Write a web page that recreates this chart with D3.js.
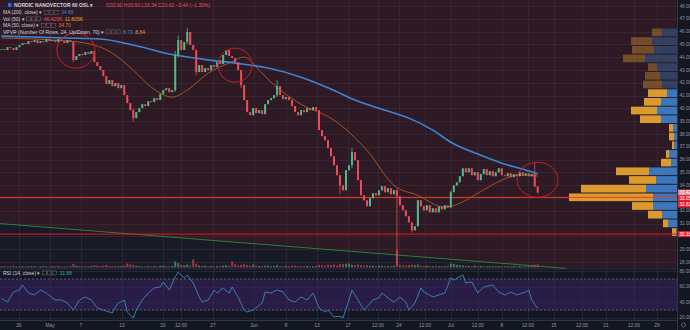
<!DOCTYPE html>
<html><head><meta charset="utf-8">
<script src="https://cdn.jsdelivr.net/npm/d3@7"></script>
<style>html,body{margin:0;padding:0;background:#131722;overflow:hidden}svg{display:block}</style>
</head><body><svg id="c" width="690" height="330"></svg>
<script>
// ---------- DATA ----------
const closes = [
44.64,44.56,44.79,44.71,44.56,44.79,44.95,45.11,45.03,45.26,
45.18,45.34,45.11,45.26,45.18,45.42,45.26,45.34,45.18,45.42,
45.26,45.11,45.34,45.18,43.78,44.09,44.25,44.17,44.40,44.25,
44.48,43.62,43.31,42.99,42.52,41.90,42.21,41.74,41.97,41.58,
41.82,41.04,40.41,39.86,39.24,39.71,40.02,40.33,40.18,40.57,
40.49,40.80,40.65,41.11,41.43,41.58,41.27,41.43,44.17,45.34,
44.56,45.18,45.97,44.95,44.56,42.84,43.38,42.84,43.15,42.99,
43.38,43.23,43.62,43.46,44.17,44.56,44.09,43.93,43.62,42.99,
41.82,40.65,39.71,39.47,40.02,39.63,39.86,39.55,40.33,40.65,
40.80,41.04,41.74,41.04,40.72,40.88,40.65,40.18,39.71,39.47,
39.86,39.71,40.02,39.86,40.10,39.86,38.30,37.83,37.52,36.89,
36.26,35.56,34.78,33.99,33.60,35.17,35.56,36.58,35.95,34.39,
33.21,32.82,32.35,32.98,33.37,33.21,33.60,33.92,33.45,33.76,
33.29,33.60,33.13,32.43,32.04,31.57,31.10,30.47,30.79,32.82,
32.35,32.04,32.43,31.88,32.19,31.88,32.35,32.11,32.43,32.27,
33.45,33.99,34.23,34.70,35.32,35.01,35.32,34.78,35.01,34.39,
34.86,35.25,34.78,35.09,34.70,35.01,35.32,34.78,34.70,34.93,
34.62,34.86,34.70,35.01,34.78,34.93,34.70,34.86,33.90,33.42];
// notable wicks: [bar, high, low]
const wicks = [[24,45.2,43.6],[44,40.0,38.95],[58,44.5,41.3],[59,45.7,44.0],[62,46.28,45.0],
[65,44.6,42.6],[80,43.0,41.6],[92,42.2,40.9],[113,34.8,33.3],[117,36.9,35.3],[132,33.7,27.75],
[137,31.1,30.3],[150,33.6,32.2],[178,35.8,33.85],[179,33.90,33.34]];
const volumes = [
18,22,15,20,25,14,18,22,16,20, 24,18,15,20,28,16,14,22,19,25,
17,21,15,24,52,30,18,22,16,20, 25,35,28,22,30,38,20,25,18,24,
22,30,60,45,40,28,22,18,20,24, 16,22,18,25,30,20,18,24,90,65,
40,35,45,30,120,55,30,25,28,20, 24,18,22,20,30,35,25,88,50,32,
40,48,35,28,45,30,25,22,28,30, 20,24,35,22,18,25,20,28,30,22,
18,20,24,18,22,25,40,35,30,42, 38,45,30,48,50,55,60,40,35,45,
38,30,35,25,28,22,30,26,20,24, 22,28,262,40,35,30,38,42,35,45,
30,25,28,22,20,24,18,22,20,26, 60,55,40,35,30,28,25,22,30,20,
24,18,22,20,25,18,22,20,24,18, 20,22,18,24,20,18,22,25,40,45];
const ma200Bars = [0,11,22,33,44,56,67,78,89,100,110,118,128,136,144,150,160,167,173,179];
const ma200Vals = [45.65,45.57,45.50,45.42,44.95,44.25,43.85,43.54,43.15,42.44,41.51,40.65,39.86,39.24,38.30,37.36,36.34,35.72,35.32,34.88];
const ma50Bars = [0,17,28,37,44,50,57,62,69,76,81,86,90,94,100,111,122,131,139,148,153,159,167,172,179];
const ma50Vals = [45.50,45.34,45.11,44.32,42.99,41.66,40.88,41.43,42.76,43.54,44.01,42.99,42.05,41.27,40.33,39.08,36.73,33.99,33.21,32.27,32.59,33.37,34.39,34.78,34.72];
const rsiBars = [0,2,4,6,7,9,11,13,15,17,18,20,22,24,26,28,30,32,34,37,38,39,41,42,44,45,47,49,51,53,54,56,58,59,61,62,64,66,67,69,71,72,74,76,77,79,81,82,84,87,88,90,92,94,96,98,100,102,104,106,108,109,111,113,114,116,117,119,121,124,126,127,130,131,133,135,136,138,140,141,144,146,148,150,151,154,155,157,159,161,164,166,168,170,172,175,176,177,179];
const rsiVals = [45.1,40.3,53.2,55.8,62.3,51.9,49.4,55.8,51.9,45.5,42.9,42.9,39.0,30.0,42.9,46.8,42.9,32.6,30.0,26.1,33.9,39.0,42.9,27.4,19.7,30.0,42.9,51.9,58.4,59.7,66.1,55.8,72.6,79.0,71.3,75.2,64.8,46.8,40.3,42.9,55.8,51.9,58.4,51.9,59.7,46.8,30.0,27.4,30.0,39.0,53.2,51.9,55.8,53.2,42.9,40.3,46.8,42.9,51.9,32.6,27.4,30.0,21.0,22.0,19.7,42.9,55.8,42.9,30.0,42.9,45.5,51.9,42.9,40.3,46.8,40.3,30.0,39.0,58.4,53.2,46.8,49.4,51.9,71.3,68.7,75.2,64.8,66.1,51.9,59.7,62.3,53.2,49.4,53.2,49.4,53.2,55.8,42.9,31.9];
const vpUp   = [10,21,22,22,9,15,19,19,17,26,21,4,5,2,3,10,33,27,65,84,21,14,5,4];
const vpDown = [15,25,23,32,20,17,15,10,16,20,16,4,3,3,8,6,28,21,31,24,24,15,9,1];
const vpRange = [46.28, 30.0];
const vpFadedRows = 7;
const priceTickLabels = ["28.00","29.00","30.00","31.00","32.00","33.00","34.00","35.00","36.00","37.00","38.00","39.00","40.00","41.00","42.00","43.00","44.00","45.00","46.00","47.00","48.00"];
const rsiTickLabels = ["20.00","40.00","60.00","80.00"];
const timeLabels = ["26","May","7","13","20","12:00","27","Jun","8","13","17","12:00","24","12:00","Jul","12:00","8","12:00","15","12:00","21","12:00","29"];
const timeBars = [5.8,16.2,26.5,40.2,53.9,59.9,70.6,84.3,95,105.3,115.7,125.7,132.7,141.4,150,159,167,175.7,184.4,193.8,201.8,211.1,218.8];
const hLines = [33.05, 30.18];
const trendLine = [[-0.5,31.0],[188.5,27.5]];
// circles drawn on chart: [barFrom, barTo, priceHigh, priceLow]
const circles = [[18.5,31.2,45.89,43.15],[72.3,83.6,44.71,42.05],[172.1,185.8,35.79,33.05]];
const axisTags = [["33.42","#f0848c"],["33.05","#f01e2c"],["32.81","#f01e2c"],["30.18","#f01e2c"]];

// ---------- DRAW ----------
const W=690,H=330,PW=677,MAIN_B=268.5,RSI_T=269.5,RSI_B=320;
const svg=d3.select("#c");
const font="'Liberation Sans', Arial, sans-serif";
const x=d3.scaleLinear().domain([-0.5,225.5]).range([0,PW]);
const y=d3.scaleLinear().domain([27.53,48.47]).range([268,0]);
const yr=d3.scaleLinear().domain([30,70]).range([310,279]);
const yv=d3.scaleLinear().domain([0,300]).range([267.5,247.5]);
const vx=d3.scaleLinear().domain([0,107]).range([0,107]);

svg.append("rect").attr("width",W).attr("height",H).attr("fill","#131722");
svg.append("rect").attr("x",0).attr("y",0).attr("width",PW).attr("height",MAIN_B).attr("fill","#2d1a24");
const tl=d3.line().x(d=>x(d[0])).y(d=>y(d[1]));
const slope=(trendLine[1][1]-trendLine[0][1])/(trendLine[1][0]-trendLine[0][0]);
const endBar=225.5, endP=trendLine[0][1]+slope*(endBar-trendLine[0][0]);
svg.append("path").attr("d",`M${x(-0.5)},${y(trendLine[0][1])}L${x(endBar)},${y(endP)}L${x(endBar)},${MAIN_B}L0,${MAIN_B}Z`)
  .attr("fill","#181b27");
const g=svg.append("g");
priceTickLabels.forEach(t=>{const yy=Math.round(y(+t))+0.5;
  g.append("line").attr("x1",0).attr("x2",PW).attr("y1",yy).attr("y2",yy).attr("stroke","#3b2832").attr("stroke-width",0.8);});
timeBars.forEach(b=>{const xx=Math.round(x(b))+0.5;
  g.append("line").attr("x1",xx).attr("x2",xx).attr("y1",0).attr("y2",MAIN_B).attr("stroke","#3b2832").attr("stroke-width",0.8);});

// RSI pane
svg.append("rect").attr("x",0).attr("y",RSI_T).attr("width",PW).attr("height",RSI_B-RSI_T).attr("fill","#131722");
svg.append("rect").attr("x",0).attr("y",yr(70)).attr("width",PW).attr("height",yr(30)-yr(70)).attr("fill","#291d48");
rsiTickLabels.forEach(t=>{const yy=Math.round(yr(+t))+0.5;
  svg.append("line").attr("x1",0).attr("x2",PW).attr("y1",yy).attr("y2",yy).attr("stroke","#2c2944").attr("stroke-width",0.8);});
timeBars.forEach(b=>{const xx=Math.round(x(b))+0.5;
  svg.append("line").attr("x1",xx).attr("x2",xx).attr("y1",RSI_T).attr("y2",RSI_B).attr("stroke","#2a2e3e").attr("stroke-width",0.8);});
[70,30].forEach(v=>svg.append("line").attr("x1",0).attr("x2",PW).attr("y1",yr(v)).attr("y2",yr(v))
  .attr("stroke","#787b86").attr("stroke-width",0.7).attr("stroke-dasharray","2,2"));
svg.append("line").attr("x1",0).attr("x2",PW).attr("y1",RSI_T-0.5).attr("y2",RSI_T-0.5).attr("stroke","#2a2e39").attr("stroke-width",1.2);
svg.append("line").attr("x1",0).attr("x2",W).attr("y1",RSI_B+0.5).attr("y2",RSI_B+0.5).attr("stroke","#3a3e4a").attr("stroke-width",0.8);

svg.append("path").attr("d",tl(trendLine)).attr("stroke","#2f8a3c").attr("stroke-width",0.9).attr("fill","none");

// volume profile
const rowH=(vpRange[0]-vpRange[1])/vpUp.length;
const vp=svg.append("g");
vpUp.forEach((u,k)=>{
  const y0=y(vpRange[0]-k*rowH)+0.5, y1=y(vpRange[0]-(k+1)*rowH)-0.5;
  const d=vpDown[k], op=k<vpFadedRows?0.38:0.95;
  vp.append("rect").attr("x",PW-vx(d)).attr("y",y0).attr("width",vx(d)).attr("height",y1-y0).attr("fill","#3b7cc4").attr("opacity",op);
  vp.append("rect").attr("x",PW-vx(d)-vx(u)).attr("y",y0).attr("width",vx(u)).attr("height",y1-y0).attr("fill","#e5a12f").attr("opacity",op);
});

hLines.forEach((p,i)=>svg.append("line").attr("x1",0).attr("x2",PW).attr("y1",y(p)).attr("y2",y(p))
  .attr("stroke",i===0?"#e83a2a":"#f0141e").attr("stroke-width",1));

const UP="#53b987",DN="#eb4d5c";
const opens=closes.map((c,i)=>i>0?closes[i-1]:c);
const vg=svg.append("g");
volumes.forEach((v,i)=>{const up=closes[i]>=opens[i];
  vg.append("rect").attr("x",x(i)-1).attr("y",yv(v)).attr("width",2).attr("height",Math.max(0.6,yv(0)-yv(v)))
   .attr("fill",up?UP:DN).attr("opacity",0.6);});

const lineB=(bars,vals)=>d3.line().curve(d3.curveMonotoneX).x((d,i)=>x(bars[i])).y(d=>y(d))(vals);
svg.append("path").attr("d",lineB(ma50Bars,ma50Vals)).attr("stroke","#a8542a").attr("stroke-width",1).attr("fill","none");
svg.append("path").attr("d",lineB(ma200Bars,ma200Vals)).attr("stroke","#3d86d6").attr("stroke-width",1.6).attr("fill","none");

const wm=new Map(wicks.map(w=>[w[0],w]));
const cg=svg.append("g");
closes.forEach((c,i)=>{
  const o=opens[i], up=c>=o, col=up?UP:DN;
  const w=wm.get(i); const hi=w?w[1]:Math.max(o,c), lo=w?w[2]:Math.min(o,c);
  const xc=x(i);
  cg.append("line").attr("x1",xc).attr("x2",xc).attr("y1",y(hi)).attr("y2",y(lo)).attr("stroke",col).attr("stroke-width",0.8);
  const top=y(Math.max(o,c)), bot=y(Math.min(o,c));
  cg.append("rect").attr("x",xc-1).attr("y",top).attr("width",2).attr("height",Math.max(0.8,bot-top)).attr("fill",col);
});

circles.forEach(cc=>{
  const cx=(x(cc[0])+x(cc[1]))/2, cy=(y(cc[2])+y(cc[3]))/2;
  svg.append("ellipse").attr("cx",cx).attr("cy",cy).attr("rx",(x(cc[1])-x(cc[0]))/2).attr("ry",(y(cc[3])-y(cc[2]))/2)
    .attr("fill","none").attr("stroke","#c8202a").attr("stroke-width",1);
});

svg.append("path").attr("d",d3.line().x((d,i)=>x(rsiBars[i])).y(d=>yr(d))(rsiVals))
  .attr("stroke","#3f86c0").attr("stroke-width",0.9).attr("fill","none");

// right axis
svg.append("rect").attr("x",PW).attr("y",0).attr("width",W-PW).attr("height",H).attr("fill","#131722");
svg.append("line").attr("x1",PW+0.5).attr("x2",PW+0.5).attr("y1",0).attr("y2",H).attr("stroke","#3a3e4a").attr("stroke-width",0.8);
const ax=svg.append("g").attr("font-family",font).attr("font-size",4.6).attr("fill","#9598a1");
const tagYs=[];
axisTags.forEach(([t],i)=>{let yy=y(+t); if(i===1) yy=Math.max(yy,tagYs[0]+6); if(i===2) yy=Math.max(yy,tagYs[1]+6); tagYs.push(yy);});
priceTickLabels.forEach(t=>{const yy=y(+t); if(tagYs.some(ty=>Math.abs(ty-yy)<6)) return;
  ax.append("text").attr("x",PW+2.5).attr("y",yy+1.6).text(t);});
rsiTickLabels.forEach(t=>ax.append("text").attr("x",PW+2.5).attr("y",yr(+t)+1.6).text(t));
axisTags.forEach(([t,col],i)=>{
  const yy=tagYs[i];
  svg.append("rect").attr("x",PW+1).attr("y",yy-3).attr("width",W-PW-1).attr("height",6).attr("fill",col);
  svg.append("text").attr("x",PW+2.5).attr("y",yy+1.6).attr("font-family",font).attr("font-size",4.6).attr("fill","#ffffff").text(t);
});

// time axis
const tx=svg.append("g").attr("font-family",font).attr("font-size",4.8).attr("fill","#9598a1").attr("text-anchor","middle");
timeLabels.forEach((t,i)=>tx.append("text").attr("x",x(timeBars[i])).attr("y",327).text(t));
svg.append("circle").attr("cx",683.5).attr("cy",325).attr("r",2).attr("fill","none").attr("stroke","#787b86").attr("stroke-width",0.7);

// legends
const lg=svg.append("g").attr("font-family",font).attr("font-size",5).attr("fill","#d1d4dc");
function legendRow(yy,label,vals){
  const t=lg.append("text").attr("x",3).attr("y",yy).text(label);
  let xp=3+t.node().getComputedTextLength()+2;
  for(let k=0;k<3;k++) lg.append("rect").attr("x",xp+k*5).attr("y",yy-3.6).attr("width",4).attr("height",4).attr("fill","none").attr("stroke","#6a6d78").attr("stroke-width",0.5);
  xp+=17;
  vals.forEach(([v,col])=>{const tv=lg.append("text").attr("x",xp).attr("y",yy).attr("fill",col).text(v); xp+=tv.node().getComputedTextLength()+2.5;});
}
lg.append("rect").attr("x",8).attr("y",3).attr("width",3.5).attr("height",4).attr("fill","#2962ff");
const tt=lg.append("text").attr("x",14).attr("y",7).attr("font-weight","bold").text("NORDIC NANOVECTOR  60  OSL ▾");
lg.append("text").attr("x",Math.max(106,14+tt.node().getComputedTextLength()+6)).attr("y",7).attr("fill","#eb4d5c").text("O33.90  H33.90  L33.34  C33.42  −0.44 (−1.30%)");
legendRow(14,"MA (200, close) ▾",[["34.88","#3d86d6"]]);
legendRow(20.5,"Vol (50) ▾",[["46.425K","#eb4d5c"],["11.805K","#e5a12f"]]);
legendRow(27,"MA (50, close) ▾",[["34.70","#e07a30"]]);
legendRow(33.5,"VPVR (Number Of Rows, 24, Up/Down, 70) ▾",[["8.73","#3d86d6"],["8.64","#e5a12f"]]);
legendRow(274.5,"RSI (14, close) ▾",[["31.88","#26a69a"]]);
</script></body></html>
